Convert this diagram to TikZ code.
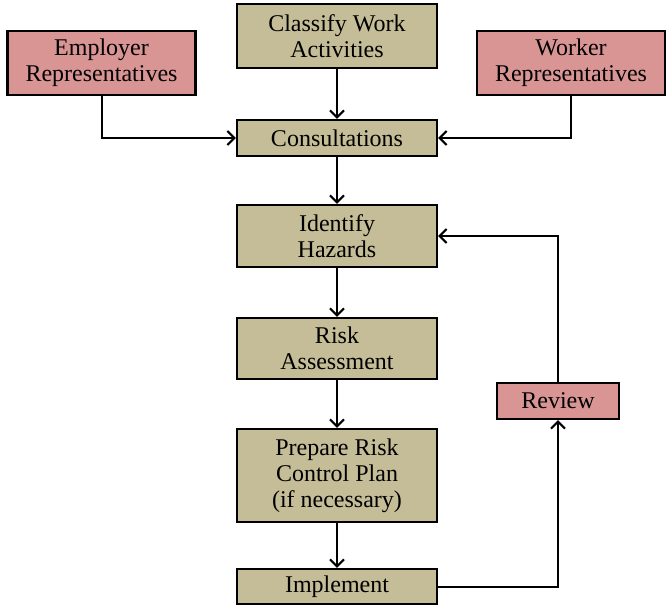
\documentclass[tikz,border=0pt]{standalone}
\usepackage{fontspec}
\setmainfont{Liberation Serif}
\usetikzlibrary{arrows.meta}
\definecolor{tan}{HTML}{C4BD97}
\definecolor{rose}{HTML}{D99594}
\begin{document}
\begin{tikzpicture}[x=1pt,y=-1pt,
  box/.style={draw=black, line width=2.4pt, align=center, inner sep=0pt,
    font=\fontsize{24}{26}\selectfont},
  stepbox/.style={box, fill=tan, minimum width=200pt},
  party/.style={box, fill=rose},
  link/.style={line width=2pt, -{Straight Barb[length=7pt,width=14pt,line width=2pt]}}]
\useasboundingbox (0,0) rectangle (668,606);
% main sequence
\node[stepbox, minimum height=64pt] (classify) at (337,36) {Classify Work\\Activities};
\node[stepbox, minimum height=36pt] (consult) at (337,138) {Consultations};
\node[stepbox, minimum height=62pt] (identify) at (337,236) {Identify\\Hazards};
\node[stepbox, minimum height=61pt] (risk) at (337,348.5) {Risk\\Assessment};
\node[stepbox, minimum height=93pt] (prepare) at (337,475.5) {Prepare Risk\\Control Plan\\(if necessary)};
\node[stepbox, minimum height=35pt] (implement) at (337,586.5) {Implement};
% parties and review
\node[party, minimum width=188pt, minimum height=64pt] (employer) at (101.5,63) {Employer\\Representatives};
\node[party, minimum width=188pt, minimum height=64pt] (worker) at (571,63) {Worker\\Representatives};
\node[party, minimum width=122pt, minimum height=36pt] (review) at (558,401) {Review};
% connectors
\draw[link] (classify) -- (consult);
\draw[link] (consult) -- (identify);
\draw[link] (identify) -- (risk);
\draw[link] (risk) -- (prepare);
\draw[link] (prepare) -- (implement);
\draw[link] (employer.south) |- (consult.west);
\draw[link] (worker.south) |- (consult.east);
\draw[link] (implement.east) -| (review.south);
\draw[link] (review.north) |- (identify.east);
\end{tikzpicture}
\end{document}
